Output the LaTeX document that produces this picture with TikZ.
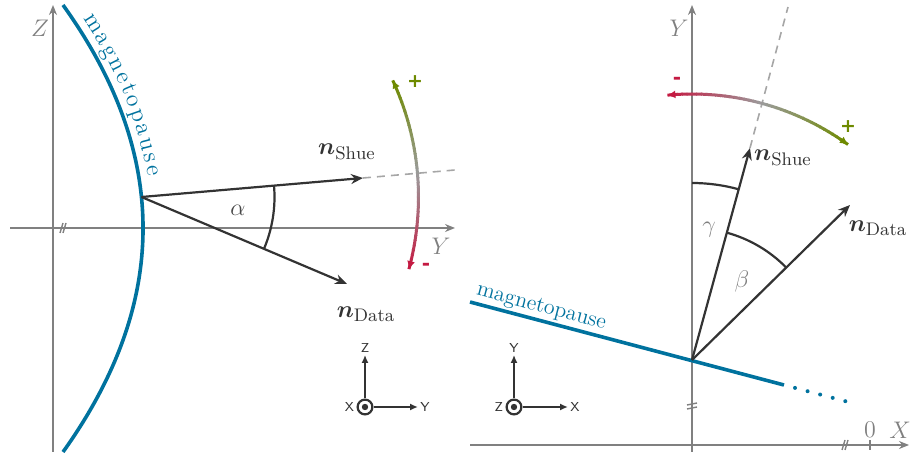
\documentclass[tikz,border=0pt]{standalone}
\usepackage{amsmath}
\usepackage{fontspec}
\usepackage{tikz}
\usetikzlibrary{arrows.meta,calc,positioning,decorations.text}

\newfontfamily\signfont{DejaVu Sans}

\definecolor{mpblue}{RGB}{0,114,158}
\definecolor{mpred}{RGB}{196,26,66}
\definecolor{mpgreen}{RGB}{110,138,0}
\definecolor{mpmid}{RGB}{155,155,155}
\definecolor{axisgray}{RGB}{128,128,128}
\definecolor{vecgray}{RGB}{51,51,51}

\tikzset{
    axis/.style={axisgray, line width=1.3pt, -{Stealth[length=5pt,width=4pt]}},
    axislabel/.style={axisgray, font=\fontsize{12}{14}\selectfont},
    brk/.style={axisgray, line width=0.7pt},
    mpause/.style={mpblue, line width=1.8pt},
    mplabel/.style={mpblue, font=\fontsize{11}{13}\selectfont, inner sep=1pt},
    nvec/.style={vecgray, line width=1.1pt, -{Stealth[length=6pt,width=5pt]}},
    nlabel/.style={vecgray, font=\fontsize{13}{15}\selectfont},
    guide/.style={gray!70, line width=0.8pt, dash pattern=on 4pt off 3pt},
    anglearc/.style={vecgray, line width=1.1pt},
    anglelabel/.style={font=\fontsize{12}{14}\selectfont},
    gradline/.style={line width=1.5pt},
    gradtip/.style={-{Latex[length=4pt,width=4pt]}},
    plussign/.style={font=\signfont\bfseries\fontsize{9.5}{11}\selectfont, mpgreen},
    minussign/.style={font=\signfont\bfseries\fontsize{10}{12}\selectfont, mpred},
    odot/.style={circle, draw=vecgray, line width=1.1pt, minimum size=7.4pt, inner sep=0pt},
    iconarrow/.style={vecgray, line width=1pt, -{Latex[length=4pt,width=3.5pt]}},
    iconlabel/.style={vecgray, font=\sffamily\fontsize{6.5}{7}\selectfont, inner sep=1pt},
}

\newcommand{\gradarc}[4]{%
    \foreach \i in {0,...,39}{
        \pgfmathsetmacro{\angA}{#3+(#4-#3)*\i/40}
        \pgfmathsetmacro{\angB}{#3+(#4-#3)*min(\i+1.2,40)/40}
        \pgfmathtruncatemacro{\mixp}{abs(2*\i-39)*100/39}
        \ifnum\i<20 \colorlet{segcol}{mpred!\mixp!mpmid}\else\colorlet{segcol}{mpgreen!\mixp!mpmid}\fi
        \draw[gradline, segcol] ($(#1)+(\angA:#2)$) arc[start angle=\angA, end angle=\angB, radius=#2];
    }
    \pgfmathsetmacro{\angA}{#3+(#4-#3)/40}
    \pgfmathsetmacro{\angB}{#4-(#4-#3)/40}
    \draw[gradline, gradtip, mpred] ($(#1)+(\angA:#2)$) arc[start angle=\angA, end angle=#3, radius=#2];
    \draw[gradline, gradtip, mpgreen] ($(#1)+(\angB:#2)$) arc[start angle=\angB, end angle=#4, radius=#2];
}

\begin{document}
\begin{tikzpicture}[x=0.5pt, y=0.5pt]
            \useasboundingbox (0,0) rectangle (910,455);

            \coordinate (zbot) at (53,3);
            \coordinate (ztop) at (53,450);
            \coordinate (yleft) at (10,227);
            \coordinate (yright) at (455,227);
            \coordinate (P) at (141.5,258);
            \coordinate (s1) at (363,277);
            \coordinate (s1end) at (455,285);
            \coordinate (d1) at (347,171);

            \draw[axis] (zbot) -- (ztop);
            \draw[axis] (yleft) -- (yright);
            \draw[brk] (60,222) -- (63,232) (63,222) -- (66,232);
            \node[axislabel] (zlab) at (40,427) {$Z$};
            \node[axislabel] (ylab) at (441,209) {$Y$};

            \draw[mpause] (63,450) .. controls (169.7,301.3) and (169.7,152.3) .. (63,3);
            \path[decorate, decoration={text along path, text color=mpblue,
                text={|\fontsize{12}{14}\selectfont|magnetopause},
                text align=fit to path, raise=4.5pt}]
                (75.4,432) .. controls (109.5,380.4) and (130.7,328.7) .. (139,277);

            \draw[guide] (s1) -- (s1end);
            \draw[nvec] (P) -- (s1);
            \draw[nvec] (P) -- (d1);
            \node[nlabel] (s1lab) at (347,303) {$\boldsymbol{n}_{\mathrm{Shue}}$};
            \node[nlabel] (d1lab) at (366,141) {$\boldsymbol{n}_{\mathrm{Data}}$};

            \draw[anglearc] ($(P)+(4.9:133)$) arc[start angle=4.9, end angle=-22.9, radius=133];
            \node[anglelabel, vecgray!90] (alab) at (238,245) {$\alpha$};

            \gradarc{P}{277}{-15.1}{24.9}
            \node[plussign] (plus1) at (415,373) {+};
            \node[minussign] (minus1) at (426,188) {-};

            \node[odot] (c1) at (365,48) {};
            \fill[vecgray] (c1.center) circle[radius=1.6pt];
            \node[iconlabel] (c1z) at (365,107) {Z};
            \node[iconlabel] (c1y) at (425,48) {Y};
            \node[iconlabel, left=0pt of c1] (c1x) {X};
            \draw[iconarrow] (c1) -- (c1z);
            \draw[iconarrow] (c1) -- (c1y);

            \coordinate (ybot) at (692,3);
            \coordinate (ytop) at (692,450);
            \coordinate (xleft) at (470,10);
            \coordinate (xright) at (909,10);
            \coordinate (Q) at (692,95);
            \coordinate (m1) at (470,153);
            \coordinate (m2) at (784,70);
            \coordinate (m3) at (795,67.1);
            \coordinate (m4) at (848,53.1);
            \coordinate (s2) at (750,307);
            \coordinate (s2end) at (788,448);
            \coordinate (d2) at (850,250);

            \draw[axis] (ybot) -- (ytop);
            \draw[axis] (xleft) -- (xright);
            \draw[brk] (687,50) -- (697,52) (687,46) -- (697,48);
            \draw[brk] (842,5) -- (845,15) (845,5) -- (848,15);
            \draw[axisgray, line width=1pt] (870,5) -- (870,15);
            \node[axislabel] (zero) at (870,25) {$0$};
            \node[axislabel] (xlab) at (900,25) {$X$};
            \node[axislabel] (ylab2) at (679,427) {$Y$};

            \draw[mpause] (m1) -- node[pos=0, sloped, anchor=south west, mplabel] {magnetopause} (m2);
            \draw[mpause, line cap=round, dash pattern=on 0pt off 6.5pt, line width=2pt] (m3) -- (m4);

            \draw[guide] (s2) -- (s2end);
            \draw[nvec] (Q) -- (s2);
            \draw[nvec] (Q) -- (d2);
            \node[nlabel] (s2lab) at (783,297) {$\boldsymbol{n}_{\mathrm{Shue}}$};
            \node[nlabel] (d2lab) at (878,227) {$\boldsymbol{n}_{\mathrm{Data}}$};

            \draw[anglearc] ($(Q)+(90:177)$) arc[start angle=90, end angle=74.7, radius=177];
            \draw[anglearc] ($(Q)+(74.7:132)$) arc[start angle=74.7, end angle=44.45, radius=132];
            \node[anglelabel, axisgray] (glab) at (709,225) {$\gamma$};
            \node[anglelabel, axisgray] (blab) at (742,173) {$\beta$};

            \gradarc{Q}{266}{95.3}{54.1}
            \node[minussign] (minus2) at (677,374) {-};
            \node[plussign] (plus2) at (848,328) {+};

            \node[odot] (c2) at (514,48) {};
            \fill[vecgray] (c2.center) circle[radius=1.6pt];
            \node[iconlabel] (c2y) at (514,107) {Y};
            \node[iconlabel] (c2x) at (575,48) {X};
            \node[iconlabel, left=0pt of c2] (c2z) {Z};
            \draw[iconarrow] (c2) -- (c2y);
            \draw[iconarrow] (c2) -- (c2x);
\end{tikzpicture}
\end{document}
